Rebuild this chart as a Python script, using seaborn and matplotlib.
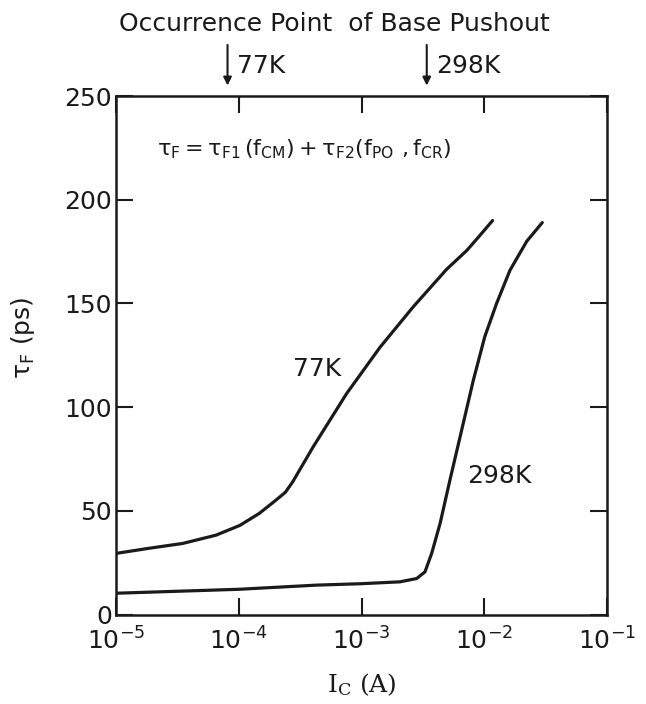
import numpy as np
import pandas as pd
import matplotlib
matplotlib.use("Agg")
import matplotlib.pyplot as plt
from matplotlib.ticker import NullLocator, FixedLocator
import seaborn as sns

# curve values
ic_77k = [1e-5, 1.87e-5, 3.49e-5, 6.53e-5, 1.02e-4, 1.47e-4, 2.01e-4, 2.4e-4, 2.75e-4,
          4.05e-4, 7.59e-4, 1.42e-3, 2.64e-3, 4.94e-3, 7.19e-3, 8.67e-3, 1.17e-2]
tau_77k = [29.5, 32, 34.3, 38.3, 43, 48.8, 55.2, 59, 64, 81, 106.7, 129, 148.4, 166.5, 175.5,
           181, 190]

ic_298k = [1e-5, 1e-4, 4.27e-4, 1e-3, 2.06e-3, 2.82e-3, 3.29e-3, 3.73e-3, 4.37e-3, 5.26e-3,
           6.55e-3, 8.15e-3, 1.01e-2, 1.26e-2, 1.62e-2, 2.22e-2, 2.97e-2]
tau_298k = [10.3, 12.2, 14.2, 14.9, 15.8, 17.4, 20.6, 29.5, 44, 65, 89, 113, 134, 150, 166,
            180, 189]

pushout_ic = [8.1e-5, 3.4e-3]
pushout_lbl = ['77K', '298K']

x_ticks = [1e-5, 1e-4, 1e-3, 1e-2, 1e-1]
x_ticklabels = ['$10^{-5}$', '$10^{-4}$', '$10^{-3}$', '$10^{-2}$', '$10^{-1}$']
y_ticks = [0, 50, 100, 150, 200, 250]

df = pd.concat([
    pd.DataFrame({'Ic': ic_77k, 'tau': tau_77k, 'T': '77K'}),
    pd.DataFrame({'Ic': ic_298k, 'tau': tau_298k, 'T': '298K'}),
])

sns.set_style("ticks")
plt.rcParams['font.family'] = ['DejaVu Sans']
plt.rcParams['mathtext.default'] = 'regular'

ink = '#1a1a1a'
fig = plt.figure(figsize=(6.46, 7.04), dpi=100)
ax = fig.add_axes([0.1796, 0.127, 0.760, 0.7365])

sns.lineplot(data=df, x='Ic', y='tau', units='T', estimator=None,
             color=ink, lw=2.3, sort=False, ax=ax)

ax.set_xscale('log')
ax.set_xlim(1e-5, 1e-1)
ax.set_ylim(0, 250)
ax.xaxis.set_major_locator(FixedLocator(x_ticks))
ax.set_xticklabels(x_ticklabels)
ax.xaxis.set_minor_locator(NullLocator())
ax.set_yticks(y_ticks)
ax.tick_params(direction='in', length=12, width=1.5, labelsize=18, colors=ink,
               top=True, right=True)
ax.tick_params(axis='x', pad=9)
ax.tick_params(axis='y', pad=3)
for s in ax.spines.values():
    s.set_linewidth(1.8)
    s.set_color(ink)

ax.set_xlabel('$I_C$ (A)', fontsize=18, labelpad=12, family='DejaVu Serif', color=ink)
ax.set_ylabel(r'$\tau_F$ (ps)', fontsize=18, color=ink)
ax.yaxis.set_label_coords(-0.161, 0.533)

ax.text(0.0835, 0.898, r'$\tau_F = \tau_{F1}\,(f_{CM}) + \tau_{F2}(f_{PO}\ ,f_{CR})$',
        transform=ax.transAxes, fontsize=16, va='center', ha='left', color=ink)

ax.text(10**-3.558, 118.4, '77K', fontsize=18, va='center', ha='left', color=ink)
ax.text(10**-2.143, 66.8, '298K', fontsize=18, va='center', ha='left', color=ink)

trans = ax.get_xaxis_transform()
for xi, lbl in zip(pushout_ic, pushout_lbl):
    ax.annotate('', xy=(xi, 1.015), xytext=(xi, 1.104), xycoords=trans, textcoords=trans,
                arrowprops=dict(arrowstyle='-|>', lw=1.5, color=ink, mutation_scale=12),
                annotation_clip=False)
    ax.text(xi * 1.19, 1.058, lbl, transform=trans, fontsize=18, va='center', ha='left',
            color=ink, clip_on=False)

fig.text(0.517, 0.966, 'Occurrence Point  of Base Pushout', fontsize=18, ha='center',
         va='center', color=ink)

fig.savefig('out.png', dpi=100)
